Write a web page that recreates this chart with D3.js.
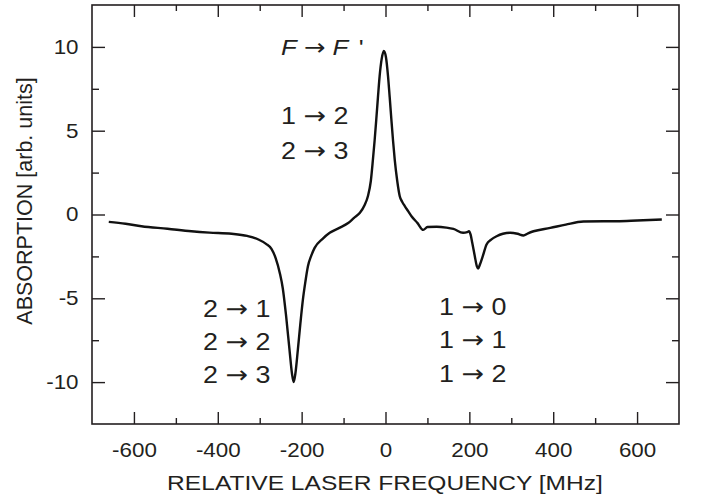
<!DOCTYPE html>
<html>
<head>
<meta charset="utf-8">
<script src="https://cdn.jsdelivr.net/npm/d3@7"></script>
<style>
  body { margin: 0; background: #fff; }
  text { font-family: "Liberation Sans", Arial, sans-serif; fill: #231f20; }
  .arrow { font-family: "DejaVu Sans", sans-serif; }
</style>
</head>
<body>
<svg id="chart" width="702" height="500"></svg>
<script>
// spectrum (MHz, arb. units)
let freq = [-660, -620, -582, -520, -463, -420, -367, -330, -303, -285, -272, -262, -252, -245,
  -237, -229, -223, -219, -215, -209, -203, -197, -191, -185, -177, -169, -150, -133, -110, -89,
  -75, -61, -50, -42, -35, -30, -26, -22, -18, -14, -9, -4, 1, 6, 10, 14, 18, 22, 28, 34, 40,
  46, 54, 62, 76, 90, 100, 122, 145, 162, 185, 195, 199, 203, 207, 213, 218, 221, 225, 232, 241,
  252, 265, 280, 297, 315, 329, 340, 353, 393, 430, 472, 520, 552, 600, 659]
let absorp = [-0.44, -0.55, -0.70, -0.85, -1.00, -1.08, -1.15, -1.28, -1.49, -1.75, -2.05, -2.6,
  -3.5, -4.4, -6.07, -8.06, -9.5, -10.0, -9.5, -8.06, -6.5, -5.08, -4.0, -3.09, -2.45, -1.99,
  -1.45, -1.09, -0.80, -0.51, -0.2, 0.10, 0.55, 1.09, 2.0, 3.27, 4.4, 5.67, 7.0, 8.26, 9.3, 9.76,
  9.4, 8.26, 7.0, 5.67, 4.4, 3.27, 2.0, 1.09, 0.75, 0.5, 0.2, -0.1, -0.5, -0.92, -0.75, -0.73,
  -0.78, -0.86, -1.09, -1.05, -1.0, -1.2, -1.7, -2.49, -3.1, -3.23, -3.0, -2.49, -1.79, -1.5,
  -1.30, -1.15, -1.09, -1.15, -1.25, -1.12, -1.0, -0.80, -0.6, -0.42, -0.40, -0.40, -0.36, -0.30]

let xMajor = [-600, -400, -200, 0, 200, 400, 600]
let xMinor = [-500, -300, -100, 100, 300, 500]
let yMajor = [-10, -5, 0, 5, 10]
let yMinor = [-7.5, -2.5, 2.5, 7.5]

// transition labels: [from, to]
let labels = [
  { lines: [[1, 2], [2, 3]], x: 281, y: 123.5, gap: 35 },
  { lines: [[2, 1], [2, 2], [2, 3]], x: 203, y: 316.5, gap: 33.3 },
  { lines: [[1, 0], [1, 1], [1, 2]], x: 439, y: 315, gap: 33.3 }
]

let svg = d3.select("#chart")
let mLeft = 92, mTop = 5, mRight = 679, mBottom = 424
let stretch = 1.12   // glyphs in the original are a bit wider than Arial

let xScale = d3.scaleLinear().domain([-700, 700]).range([mLeft, mRight])
let yScale = d3.scaleLinear().domain([-12.5, 12.5]).range([mBottom, mTop])

function addAxis(axis, tx, ty, labelled) {
  let g = svg.append("g")
    .attr("transform", `translate(${tx},${ty})`)
    .call(axis)
  g.select(".domain").remove()
  g.selectAll("line").attr("stroke", "#231f20").attr("stroke-width", 1.4)
  if (labelled) {
    g.selectAll("text")
      .style("font-size", "20px")
      .attr("fill", "#231f20")
      .attr("transform", `scale(${stretch},1)`)
  } else {
    g.selectAll("text").remove()
  }
  return g
}

let fmt = d => String(d)

// bottom / top
addAxis(d3.axisBottom(xScale).tickValues(xMajor).tickSize(-12).tickPadding(19).tickFormat(fmt), 0, mBottom, true)
addAxis(d3.axisBottom(xScale).tickValues(xMinor).tickSize(-6), 0, mBottom, false)
addAxis(d3.axisTop(xScale).tickValues(xMajor).tickSize(-12), 0, mTop, false)
addAxis(d3.axisTop(xScale).tickValues(xMinor).tickSize(-6), 0, mTop, false)
// left / right
addAxis(d3.axisLeft(yScale).tickValues(yMajor).tickSize(-13).tickPadding(12).tickFormat(fmt), mLeft, 0, true)
addAxis(d3.axisLeft(yScale).tickValues(yMinor).tickSize(-7), mLeft, 0, false)
addAxis(d3.axisRight(yScale).tickValues(yMajor).tickSize(-13), mRight, 0, false)
addAxis(d3.axisRight(yScale).tickValues(yMinor).tickSize(-7), mRight, 0, false)

svg.append("rect")
  .attr("x", mLeft).attr("y", mTop)
  .attr("width", mRight - mLeft).attr("height", mBottom - mTop)
  .attr("fill", "none").attr("stroke", "#231f20").attr("stroke-width", 1.6)

let line = d3.line()
  .x((d, i) => xScale(freq[i]))
  .y(d => yScale(d))
  .curve(d3.curveMonotoneX)

svg.append("path")
  .datum(absorp)
  .attr("d", line)
  .attr("fill", "none")
  .attr("stroke", "#111")
  .attr("stroke-width", 2.4)
  .attr("stroke-linejoin", "round")

// axis titles
svg.append("text")
  .attr("transform", `translate(385,490) scale(1.17,1)`)
  .attr("text-anchor", "middle")
  .style("font-size", "21px")
  .text("RELATIVE LASER FREQUENCY [MHz]")

svg.append("text")
  .attr("transform", "translate(32,201) rotate(-90)")
  .attr("text-anchor", "middle")
  .style("font-size", "21.5px")
  .text("ABSORPTION [arb. units]")

// F -> F' header
let head = svg.append("text")
  .attr("transform", `translate(281,55) scale(${stretch},1)`)
  .style("font-size", "23px")
head.append("tspan").style("font-style", "italic").text("F")
head.append("tspan").text(" ")
head.append("tspan").attr("class", "arrow").text("\u2192")
head.append("tspan").text(" ")
head.append("tspan").style("font-style", "italic").text("F")
head.append("tspan").attr("dx", 3).text(" '")

labels.forEach(l => {
  l.lines.forEach((p, i) => {
    let t = svg.append("text")
      .attr("transform", `translate(${l.x},${l.y + i * l.gap}) scale(${stretch},1)`)
      .style("font-size", "24px")
    t.append("tspan").text(p[0] + " ")
    t.append("tspan").attr("class", "arrow").text("\u2192")
    t.append("tspan").text(" " + p[1])
  })
})
</script>
</body>
</html>
